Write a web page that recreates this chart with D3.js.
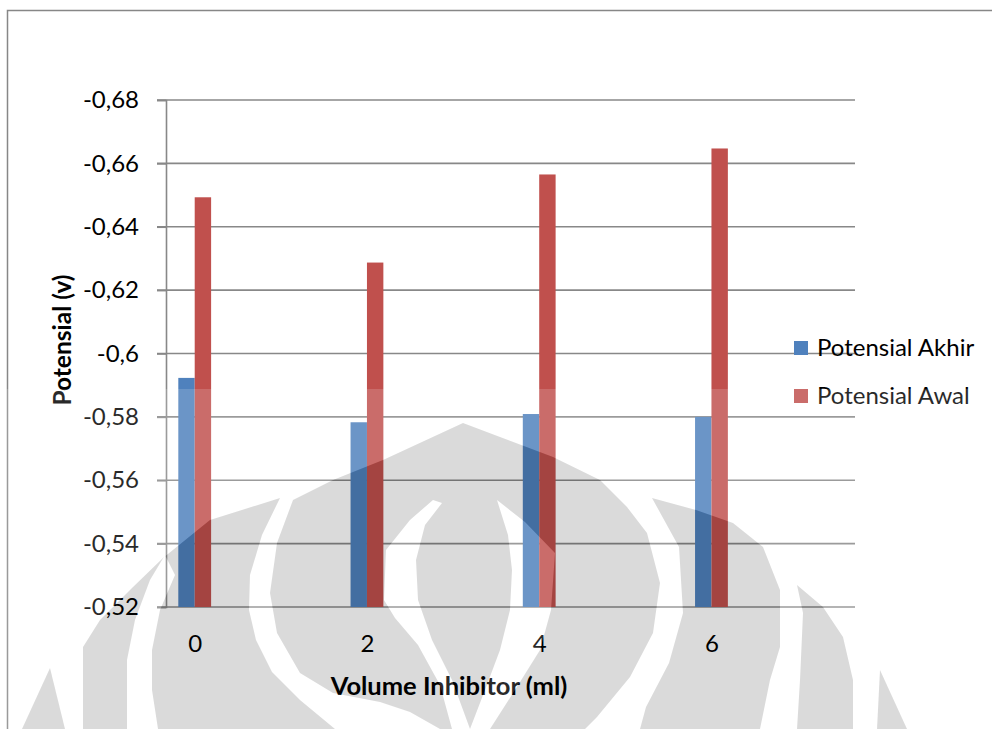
<!DOCTYPE html>
<html>
<head>
<meta charset="utf-8">
<script src="https://cdn.jsdelivr.net/npm/d3@7"></script>
<style>
  body { margin: 0; background: #fff; }
  svg { display: block; font-family: Lato, "Open Sans", sans-serif; }
</style>
</head>
<body>
<script>
// data
const categories = ["0", "2", "4", "6"];
const seriesNames = ["Potensial Akhir", "Potensial Awal"];
const potensialAkhir = [-0.5923, -0.5783, -0.5809, -0.5800];
const potensialAwal = [-0.6493, -0.6287, -0.6565, -0.6647];
const yTicks = [-0.52, -0.54, -0.56, -0.58, -0.6, -0.62, -0.64, -0.66, -0.68];
const yTickLabels = ["-0,52", "-0,54", "-0,56", "-0,58", "-0,6", "-0,62", "-0,64", "-0,66", "-0,68"];

const width = 992, height = 729;
const colors = ["#4F81BD", "#C0504D"];
const margin = { left: 166, right: 137, top: 100, bottom: 122 };

const svg = d3.select("body").append("svg")
  .attr("width", width)
  .attr("height", height);

// outer chart border
svg.append("path")
  .attr("d", "M7.5,740 L7.5,10.5 L1000,10.5")
  .attr("fill", "none")
  .attr("stroke", "#878787")
  .attr("stroke-width", 1.5);

const y = d3.scaleLinear()
  .domain([-0.52, -0.68])
  .range([height - margin.bottom, margin.top]);

const x0 = d3.scaleBand()
  .domain(categories)
  .range([margin.left, width - margin.right]);

// excel layout: 9 series slots per category, gap 150%
const x1 = d3.scaleBand()
  .domain(d3.range(9))
  .range([0, x0.bandwidth()])
  .paddingOuter(0.75);

// gridlines
svg.append("g")
  .selectAll("line")
  .data(yTicks)
  .join("line")
  .attr("x1", margin.left - 9)
  .attr("x2", width - margin.right)
  .attr("y1", d => y(d))
  .attr("y2", d => y(d))
  .attr("stroke", "#888")
  .attr("stroke-width", 1.6);

// y axis
const yAxis = d3.axisLeft(y)
  .tickValues(yTicks)
  .tickFormat((d, i) => yTickLabels[i])
  .tickSize(9)
  .tickPadding(18);

const gy = svg.append("g")
  .attr("transform", `translate(${margin.left},0)`)
  .call(yAxis);
gy.select(".domain").attr("stroke", "#888").attr("stroke-width", 1.6);
gy.selectAll(".tick line").attr("stroke", "#888").attr("stroke-width", 1.6);
gy.selectAll("text")
  .attr("font-size", 24)
  .attr("font-family", "Lato, sans-serif")
  .attr("fill", "#000");

// bars
const table = categories.map((c, i) => ({ cat: c, values: [potensialAkhir[i], potensialAwal[i]] }));

const groups = svg.append("g")
  .selectAll("g")
  .data(table)
  .join("g")
  .attr("transform", d => `translate(${x0(d.cat)},0)`);

groups.selectAll("rect")
  .data(d => d.values.map((v, k) => ({ k, v })))
  .join("rect")
  .attr("x", d => x1(d.k))
  .attr("width", x1.bandwidth())
  .attr("y", d => y(d.v))
  .attr("height", d => y(-0.52) - y(d.v))
  .attr("fill", d => colors[d.k]);

// category labels
svg.append("g")
  .selectAll("text")
  .data(categories)
  .join("text")
  .attr("x", d => x0(d) + x1(1) + 0.5)
  .attr("y", y(-0.52) + 45)
  .attr("text-anchor", "middle")
  .attr("font-size", 24)
  .text(d => d);

// axis titles
svg.append("text")
  .attr("x", 449)
  .attr("y", 695)
  .attr("text-anchor", "middle")
  .attr("font-size", 25.5)
  .attr("font-weight", "bold")
  .text("Volume Inhibitor (ml)");

svg.append("text")
  .attr("transform", "translate(71,340) rotate(-90)")
  .attr("text-anchor", "middle")
  .attr("font-size", 24.5)
  .attr("font-weight", "bold")
  .text("Potensial (v)");

// legend
const legend = svg.append("g")
  .selectAll("g")
  .data(seriesNames)
  .join("g")
  .attr("transform", (d, i) => `translate(794,${341 + i * 48})`);

legend.append("rect")
  .attr("width", 14)
  .attr("height", 14)
  .attr("fill", (d, i) => colors[i]);

legend.append("text")
  .attr("x", 23)
  .attr("y", 14.5)
  .attr("font-size", 24)
  .attr("fill", "#000")
  .text(d => d);

// background watermark of the scanned page, drawn over the chart
const greyShapes = [
  "M50,668 L22,729 L65,729 Z",
  "M83,729 L83,647 L100,620 L133,587 L163,558 L210,520 L280,498 L262,535 L250,575 L249,610 L256,640 L272,672 L300,700 L335,729 Z",
  "M293,500 L333,480 L383,460 L463,423 L553,457 L600,480 L627,507 L647,533 L660,583 L653,633 L630,677 L597,717 L585,729 L440,729 L410,712 L380,702 L333,693 L300,673 L277,633 L270,593 L277,543 Z",
  "M652,498 L696,510 L733,523 L763,547 L780,590 L780,647 L770,680 L760,729 L640,729 L646,707 L669,663 L683,613 L679,547 Z",
  "M797,585 L823,607 L843,637 L853,680 L853,729 L797,729 L800,680 L803,613 Z",
  "M880,670 L907,729 L877,729 Z"
];
const whiteBands = [
  "M165,555 L175,575 L160,610 L152,650 L152,690 L158,729 L127,729 L127,660 L135,620 L150,580 Z",
  "M433,500 L442,503 L425,525 L416,560 L418,600 L432,640 L452,680 L470,729 L452,729 L440,685 L418,645 L395,618 L384,600 L386,550 L410,520 Z",
  "M497,500 L525,522 L555,553 L551,610 L540,650 L515,690 L490,729 L470,729 L485,690 L500,650 L510,610 L512,570 L508,535 Z"
];

const wmTop = 389;
const defs = svg.append("defs");
const whiteMask = defs.append("mask").attr("id", "wm-white");
whiteMask.append("rect").attr("x", 0).attr("y", wmTop).attr("width", width).attr("height", height - wmTop).attr("fill", "#fff");
whiteMask.append("g").selectAll("path").data(greyShapes).join("path").attr("d", d => d).attr("fill", "#000");
whiteMask.append("g").selectAll("path").data(whiteBands).join("path").attr("d", d => d).attr("fill", "#fff");

const greyMask = defs.append("mask").attr("id", "wm-grey");
greyMask.append("rect").attr("width", width).attr("height", height).attr("fill", "#fff");
greyMask.append("g").selectAll("path").data(whiteBands).join("path").attr("d", d => d).attr("fill", "#000");

svg.append("rect")
  .attr("x", 0).attr("y", wmTop)
  .attr("width", width).attr("height", height - wmTop)
  .attr("fill", "#fff")
  .attr("opacity", 0.16)
  .attr("mask", "url(#wm-white)");

svg.append("g")
  .attr("mask", "url(#wm-grey)")
  .attr("fill", "#000")
  .attr("opacity", 0.14)
  .selectAll("path")
  .data(greyShapes)
  .join("path")
  .attr("d", d => d);
</script>
</body>
</html>
